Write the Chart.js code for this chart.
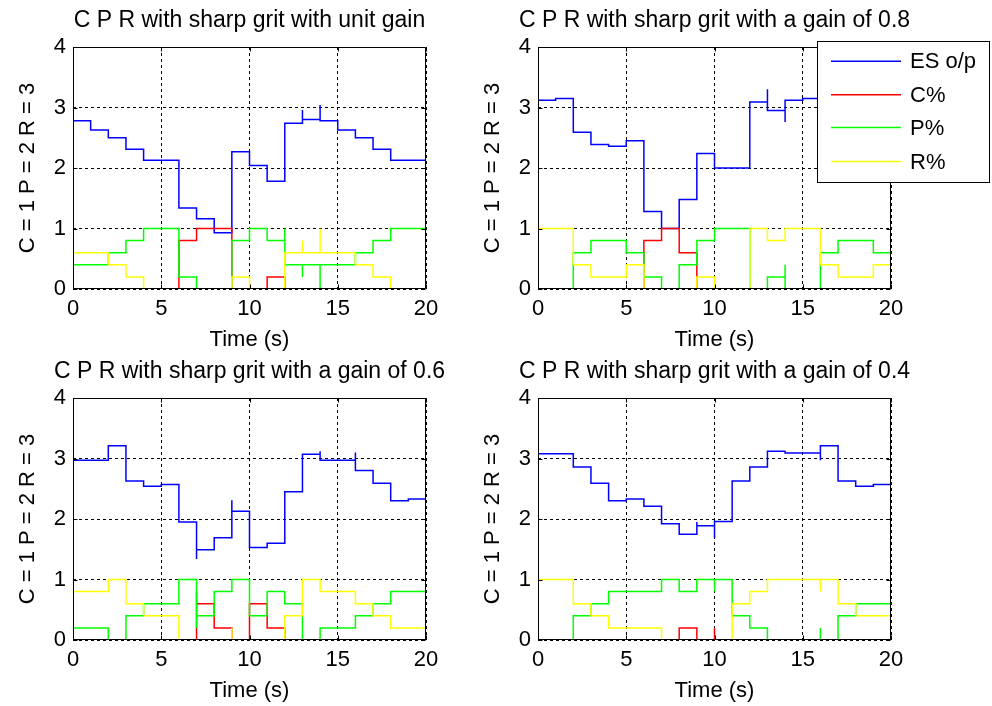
<!DOCTYPE html>
<html><head><meta charset="utf-8">
<script src="https://cdn.jsdelivr.net/npm/chart.js@4.4.1/dist/chart.umd.min.js"></script>
<style>
html,body{margin:0;padding:0;background:#fff;}
#wrap{position:relative;width:992px;height:706px;overflow:hidden;background:#fff;}
.panel{position:absolute;}
.panel canvas{display:block;}
</style></head>
<body>
<div id="wrap">
  <div class="panel" style="left:0;top:0"><canvas id="c1" width="499" height="353"></canvas></div>
  <div class="panel" style="left:0;top:351px"><canvas id="c3" width="499" height="353"></canvas></div>
  <div class="panel" style="left:465px;top:0"><canvas id="c2" width="527" height="353"></canvas></div>
  <div class="panel" style="left:465px;top:351px"><canvas id="c4" width="499" height="353"></canvas></div>
</div>
<script>
// ---------- data ----------
const times = [0,1,2,3,4,5,6,7,8,9,10,11,12,13,14,15,16,17,18,19];
const endTime = 20;
const xTicks = [0,5,10,15,20];
const yTicks = [0,1,2,3,4];
const panelTitles = [
  'C P R with sharp grit with unit gain',
  'C P R with sharp grit with a gain of 0.8',
  'C P R with sharp grit with a gain of 0.6',
  'C P R with sharp grit with a gain of 0.4'
];
const seriesNames = ['ES o/p', 'C%', 'P%', 'R%'];
const xLabel = 'Time (s)';
const yLabel = 'C = 1 P = 2 R = 3';

// unit gain
const esUnit = [2.78,2.63,2.50,2.31,2.13,2.13,1.34,1.16,0.93,2.27,2.04,1.78,2.74,2.80,2.78,2.63,2.50,2.31,2.13,2.13];
const esUnitSpikes = [[13,2.96],[14,3.04]];
const cUnit = [0,0,0,0,0,0,0.8,1,1,0,0,0.2,0,0,0,0,0,0,0,0];
const cUnitSpikes = [];
const pUnit = [0.4,0.4,0.6,0.8,1,1,0.2,0,0,0.8,1,0.8,0.4,0.4,0.4,0.4,0.6,0.8,1,1];
const pUnitSpikes = [[12,1.0],[13,0.2],[14,0]];
const rUnit = [0.6,0.6,0.4,0.2,0,0,0,0,0,0.2,0,0,0.6,0.6,0.6,0.6,0.4,0.2,0,0];
const rUnitSpikes = [[13,0.8],[14,1.0]];

// gain 0.8
const esG08 = [3.12,3.15,2.59,2.39,2.36,2.45,1.28,1.00,1.48,2.24,2.00,2.00,3.09,2.95,3.12,3.15,3.15,2.90,2.75,2.60];
const esG08Spikes = [[13,3.30],[14,2.76]];
const cG08 = [0,0,0,0,0,0,0.8,1,0.6,0,0,0,0,0,0,0,0,0,0,0];
const cG08Spikes = [];
const pG08 = [0,0,0.6,0.8,0.8,0.6,0.2,0,0.4,0.8,1,1,0,0.2,0,0,0.6,0.8,0.8,0.6];
const pG08Spikes = [[14,0.4]];
const rG08 = [1,1,0.4,0.2,0.2,0.4,0,0,0,0.2,0,0,1,0.8,1,1,0.4,0.2,0.2,0.4];
const rG08Spikes = [];

// gain 0.6
const esG06 = [2.97,2.97,3.21,2.63,2.54,2.57,1.95,1.49,1.69,2.13,1.53,1.60,2.45,3.07,2.97,2.97,2.80,2.59,2.30,2.33];
const esG06Spikes = [[7,1.34],[9,2.31],[14,3.12],[16,3.10]];
const cG06 = [0,0,0,0,0,0,0,0.6,0.2,0,0.6,0.2,0,0,0,0,0,0,0,0];
const cG06Spikes = [[7,0.8]];
const pG06 = [0.2,0.2,0,0.4,0.6,0.6,1,0.4,0.8,1,0.4,0.8,0.6,0,0.2,0.2,0.4,0.6,0.8,0.8];
const pG06Spikes = [[7,0.2]];
const rG06 = [0.8,0.8,1,0.6,0.4,0.4,0,0,0,0,0,0,0.4,1,0.8,0.8,0.6,0.4,0.2,0.2];
const rG06Spikes = [[9,0.2]];

// gain 0.4
const esG04 = [3.08,3.08,2.86,2.59,2.30,2.33,2.21,1.92,1.75,1.89,1.96,2.63,2.86,3.12,3.09,3.09,3.21,2.63,2.54,2.57];
const esG04Spikes = [[9,1.95],[10,1.68],[14,3.13],[16,2.97]];
const cG04 = [0,0,0,0,0,0,0,0,0.2,0,0,0,0,0,0,0,0,0,0,0];
const cG04Spikes = [[10,0.2]];
const pG04 = [0,0,0.4,0.6,0.8,0.8,0.8,1,0.8,1,1,0.4,0.2,0,0,0,0,0.4,0.6,0.6];
const pG04Spikes = [[10,0.8],[16,0.2]];
const rG04 = [1,1,0.6,0.4,0.2,0.2,0.2,0,0,0,0,0.6,0.8,1,1,1,1,0.6,0.4,0.4];
const rG04Spikes = [[16,0.8]];

// ---------- styling ----------
const FONT = "'Liberation Sans', Arial, Helvetica, sans-serif";
const colors = ['#0000ff', '#ff0000', '#00ff00', '#ffff00'];

function stepPoints(values, spikes) {
  const pts = [];
  values.forEach((v, i) => {
    const t = times[i];
    spikes.filter(s => s[0] === t).forEach(s => pts.push({x: t, y: s[1]}));
    pts.push({x: t, y: v});
  });
  pts.push({x: endTime, y: values[values.length - 1]});
  return pts;
}

// MATLAB-like box with inward tick marks, drawn over the data
const framePlugin = {
  id: 'frame',
  afterDatasetsDraw(chart) {
    const {ctx, chartArea: a, scales} = chart;
    const L = Math.round(a.left) + 0.5, R = Math.round(a.right) - 0.5;
    const T = Math.round(a.top) + 0.5, B = Math.round(a.bottom) - 0.5;
    const tl = 4;
    ctx.save();
    ctx.strokeStyle = '#000';
    ctx.lineWidth = 1;
    ctx.setLineDash([]);
    ctx.beginPath();
    ctx.rect(L, T, R - L, B - T);
    scales.x.ticks.forEach(t => {
      const px = Math.round(scales.x.getPixelForValue(t.value)) + 0.5;
      ctx.moveTo(px, B); ctx.lineTo(px, B - tl);
      ctx.moveTo(px, T); ctx.lineTo(px, T + tl);
    });
    scales.y.ticks.forEach(t => {
      const py = Math.round(scales.y.getPixelForValue(t.value)) + 0.5;
      ctx.moveTo(L, py); ctx.lineTo(L + tl, py);
      ctx.moveTo(R, py); ctx.lineTo(R - tl, py);
    });
    ctx.stroke();
    ctx.restore();
  }
};

// floating legend box (top-right panel), drawn from the datasets' own labels/colours
const legendPlugin = {
  id: 'floatLegend',
  afterDraw(chart) {
    const ctx = chart.ctx;
    const bx = 352, by = 41, bw = 173, bh = 142;
    const rowY = [20.3, 53.7, 86.6, 120.5];
    ctx.save();
    ctx.fillStyle = '#fff';
    ctx.fillRect(bx, by, bw, bh);
    ctx.strokeStyle = '#000';
    ctx.lineWidth = 1;
    ctx.setLineDash([]);
    ctx.strokeRect(bx + 0.5, by + 0.5, bw - 1, bh - 1);
    ctx.font = '22px ' + FONT;
    ctx.textBaseline = 'middle';
    ctx.textAlign = 'left';
    chart.data.datasets.forEach((ds, k) => {
      const y = by + rowY[k];
      ctx.strokeStyle = ds.borderColor;
      ctx.lineWidth = 1.5;
      ctx.beginPath();
      ctx.moveTo(bx + 14, y); ctx.lineTo(bx + 84, y);
      ctx.stroke();
      ctx.fillStyle = '#000';
      ctx.fillText(ds.label, bx + 93, y + 1);
    });
    ctx.restore();
  }
};

function makeChart(id, title, series, padRight, extraPlugins) {
  const datasets = series.map((s, k) => ({
    label: seriesNames[k],
    data: stepPoints(s[0], s[1]),
    borderColor: colors[k],
    backgroundColor: colors[k],
    borderWidth: 1.5,
    pointRadius: 0,
    stepped: true,
    fill: false,
    order: 3 - k
  }));
  return new Chart(document.getElementById(id), {
    type: 'line',
    data: {datasets},
    plugins: [framePlugin].concat(extraPlugins || []),
    options: {
      responsive: false,
      animation: false,
      events: [],
      layout: {padding: {left: 0, right: padRight, top: 0, bottom: 0}},
      plugins: {
        legend: {display: false},
        tooltip: {enabled: false},
        title: {
          display: true, text: title, fullSize: true, color: '#000',
          font: {family: FONT, size: 23, weight: 'normal', lineHeight: 1.2},
          padding: {top: 6.7, bottom: 12.7}
        }
      },
      scales: {
        x: {
          type: 'linear', min: 0, max: endTime,
          afterFit(scale) { scale.height = 64; },
          afterBuildTicks(scale) { scale.ticks = xTicks.map(v => ({value: v})); },
          grid: {color: '#000', lineWidth: 1, drawTicks: false},
          border: {display: false, dash: [3, 3]},
          ticks: {color: '#000', padding: 7, maxRotation: 0, autoSkip: false,
                  font: {family: FONT, size: 22, lineHeight: 1.2}},
          title: {display: true, text: xLabel, color: '#000', padding: {top: 0, bottom: 0},
                  font: {family: FONT, size: 22, lineHeight: 1.2}}
        },
        y: {
          type: 'linear', min: 0, max: 4,
          afterFit(scale) { scale.width = 73; },
          afterBuildTicks(scale) { scale.ticks = yTicks.map(v => ({value: v})); },
          grid: {color: '#000', lineWidth: 1, drawTicks: false},
          border: {display: false, dash: [3, 3]},
          ticks: {color: '#000', padding: 7, autoSkip: false,
                  font: {family: FONT, size: 22, lineHeight: 1.2}},
          title: {display: true, text: yLabel, color: '#000', padding: {top: 14.5, bottom: 0},
                  font: {family: FONT, size: 22, lineHeight: 1.2}}
        },
        // empty spacer on the right so the title centres over the plot box
        ySpacer: {
          type: 'linear', position: 'right', display: true,
          afterFit(scale) { scale.width = 73; },
          grid: {display: false, drawTicks: false},
          border: {display: false},
          ticks: {display: false},
          title: {display: false}
        }
      }
    }
  });
}

makeChart('c1', panelTitles[0], [[esUnit, esUnitSpikes], [cUnit, cUnitSpikes], [pUnit, pUnitSpikes], [rUnit, rUnitSpikes]], 0);
makeChart('c3', panelTitles[2], [[esG06, esG06Spikes], [cG06, cG06Spikes], [pG06, pG06Spikes], [rG06, rG06Spikes]], 0);
makeChart('c2', panelTitles[1], [[esG08, esG08Spikes], [cG08, cG08Spikes], [pG08, pG08Spikes], [rG08, rG08Spikes]], 28, [legendPlugin]);
makeChart('c4', panelTitles[3], [[esG04, esG04Spikes], [cG04, cG04Spikes], [pG04, pG04Spikes], [rG04, rG04Spikes]], 0);
</script>
</body></html>
